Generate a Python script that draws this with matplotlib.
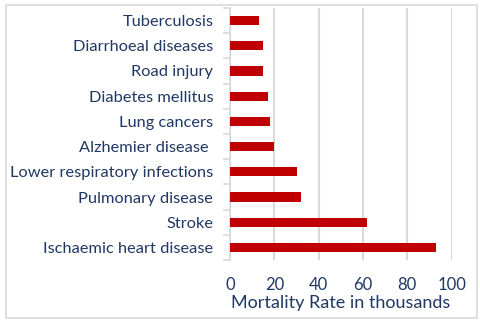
import matplotlib
matplotlib.use("Agg")
import matplotlib.pyplot as plt
from matplotlib.patches import Rectangle

categories = ["Ischaemic heart disease", "Stroke", "Pulmonary disease",
              "Lower respiratory infections", "Alzhemier disease ",
              "Lung cancers", "Diabetes mellitus", "Road injury",
              "Diarrhoeal diseases", "Tuberculosis"]
values = [93, 62, 32, 30, 20, 18, 17, 15, 15, 13]
xticks = [0, 20, 40, 60, 80, 100]
xlabel = "Mortality Rate in thousands"

text_color = "#203864"
bar_color = "#C00000"
grid_color = "#D9D9D9"
plt.rcParams['font.family'] = ['Lato', 'DejaVu Sans']

fig = plt.figure(figsize=(4.8, 3.23), dpi=100)
ax = fig.add_axes([230/480, 1-260/323, (451.7-230)/480, (260-8)/323])

ypos = list(range(len(categories)))
ax.barh(ypos, values, height=0.36, color=bar_color, zorder=3)
ax.set_ylim(-0.5, len(categories)-0.5)
ax.set_xlim(0, 100)
ax.set_xticks(xticks)
ax.set_xticklabels([str(t) for t in xticks], fontsize=12, color=text_color)
ax.set_yticks(ypos)
ax.set_yticklabels(categories, fontsize=11.8, color=text_color)
ax.set_yticks([i - 0.5 for i in range(len(categories)+1)], minor=True)
ax.tick_params(axis='y', which='major', length=0, pad=12)
ax.tick_params(axis='y', which='minor', length=5, color=grid_color, width=1.2)
ax.tick_params(axis='x', length=0, pad=12.5)
ax.xaxis.grid(True, color=grid_color, linewidth=1.5, zorder=0)
for s in ['top', 'right', 'bottom']:
    ax.spines[s].set_visible(False)
ax.spines['left'].set_color(grid_color)
ax.spines['left'].set_linewidth(1.2)
ax.set_xlabel(xlabel, fontsize=13, color=text_color, labelpad=1.5)

fig.patches.append(Rectangle((6/480, 5/323), 471/480, 313/323, transform=fig.transFigure,
                             fill=False, edgecolor="#D9D9D9", linewidth=1.2))
fig.savefig("out.png", dpi=100)
